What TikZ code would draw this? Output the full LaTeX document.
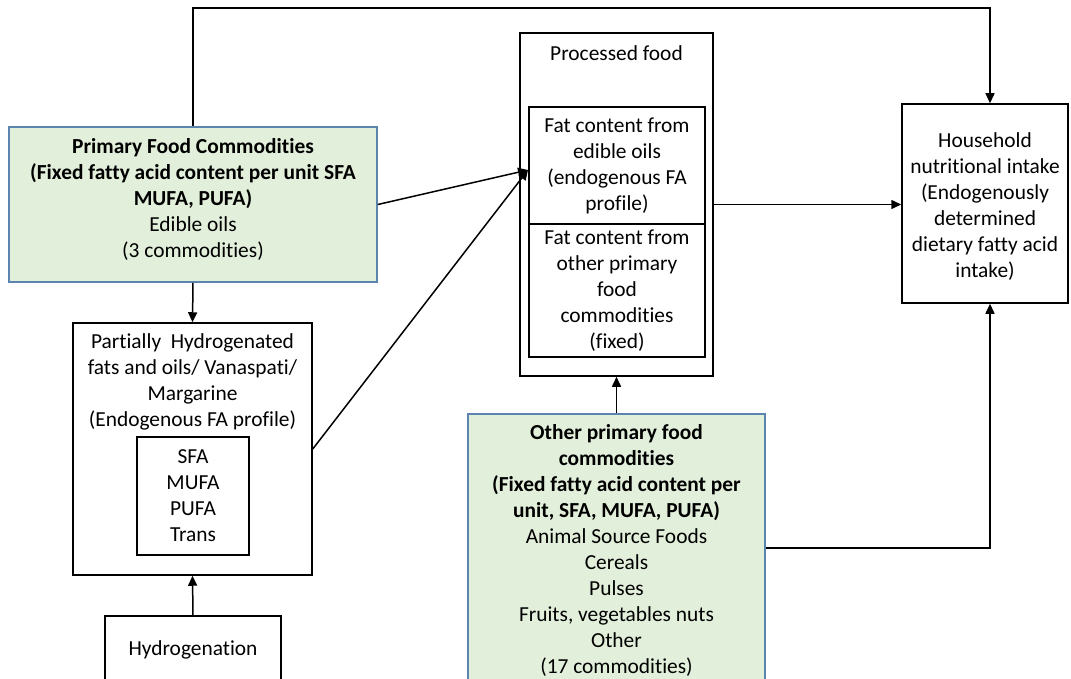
\documentclass[tikz,border=0pt]{standalone}
\usepackage{fontspec}
\setmainfont{Carlito}[Ligatures=NoCommon]
\usetikzlibrary{arrows.meta}
\definecolor{boxgreen}{HTML}{E2EFDA}
\definecolor{boxblue}{HTML}{5B85B0}
\begin{document}
\begin{tikzpicture}[x=1pt,y=-1pt,
  every node/.style={font=\fontsize{21.4}{26}\selectfont, inner sep=0pt, align=center},
  box/.style={draw, line width=1.5pt, rectangle},
  greenbox/.style={draw=boxblue, fill=boxgreen, line width=1.6pt, rectangle},
  conn/.style={line width=1.5pt},
  arr/.style={conn, -{Triangle[length=10pt,width=9pt]}}]
\useasboundingbox (0,0) rectangle (1071,679);
\clip (0,0) rectangle (1071,679);

% primary food commodities (edible oils)
\node[greenbox, minimum width=368pt, minimum height=155pt] (prim) at (193,204.5) {};
\node (primtext) at (193,199) {\textbf{Primary Food Commodities}\\
  \textbf{(Fixed fatty acid content per unit SFA}\\
  \textbf{MUFA, PUFA)}\\
  Edible oils\\
  (3 commodities)};

% partially hydrogenated fats
\node[box, minimum width=239pt, minimum height=252pt] (partbox) at (192.5,449) {};
\node (parttext) at (192.5,382) {Partially\ \ Hydrogenated\\
  fats and oils/ Vanaspati/\\
  Margarine\\
  (Endogenous FA profile)};
\node[box, minimum width=112pt, minimum height=118pt] (fa) at (193,496) {SFA\\MUFA\\PUFA\\Trans};

% hydrogenation
\node[box, minimum width=176pt, minimum height=74pt] (hyd) at (193,653) {};
\node (hydtext) at (193,650) {Hydrogenation};

% processed food
\node[box, minimum width=193pt, minimum height=343pt] (proc) at (616.5,204.5) {};
\node (proctitle) at (616.5,53) {Processed food};
\node[box, minimum width=176pt, minimum height=117pt] (oils) at (617,165.5) {Fat content from\\edible oils\\(endogenous FA\\profile)};
\node[box, minimum width=176pt, minimum height=133pt] (otherfat) at (617,290.5) {Fat content from\\other primary\\food\\commodities\\(fixed)};

% other primary food commodities
\node[greenbox, minimum width=297pt, minimum height=268pt] (other) at (616.5,548) {};
\node (othertext) at (616.5,550) {\textbf{Other primary food}\\
  \textbf{commodities}\\
  \textbf{(Fixed fatty acid content per}\\
  \textbf{unit, SFA, MUFA, PUFA)}\\
  Animal Source Foods\\
  Cereals\\
  Pulses\\
  Fruits, vegetables nuts\\
  Other\\
  (17 commodities)};

% household intake
\node[box, minimum width=166pt, minimum height=199pt] (house) at (985,203.5) {};
\node (housetext) at (985,207) {Household\\nutritional intake\\(Endogenously\\determined\\dietary fatty acid\\intake)};

% connectors
\coordinate (topright) at (990,8);
\coordinate (oilin) at (528,170);
\coordinate (bottomright) at (990,548);
\draw[arr] (prim.north) |- (topright) -- (topright |- house.north);
\draw[arr] (prim.south) -- (partbox.north);
\draw[arr] (hyd.north) -- (partbox.south);
\draw[arr] (prim.east) -- (oilin);
\draw[arr] (partbox.east) -- (oilin);
\draw[arr] (proc.east) -- (proc.east -| house.west);
\draw[arr] (other.north) -- (proc.south);
\draw[arr] (other.east) -| (bottomright) -- (bottomright |- house.south);
\end{tikzpicture}
\end{document}
